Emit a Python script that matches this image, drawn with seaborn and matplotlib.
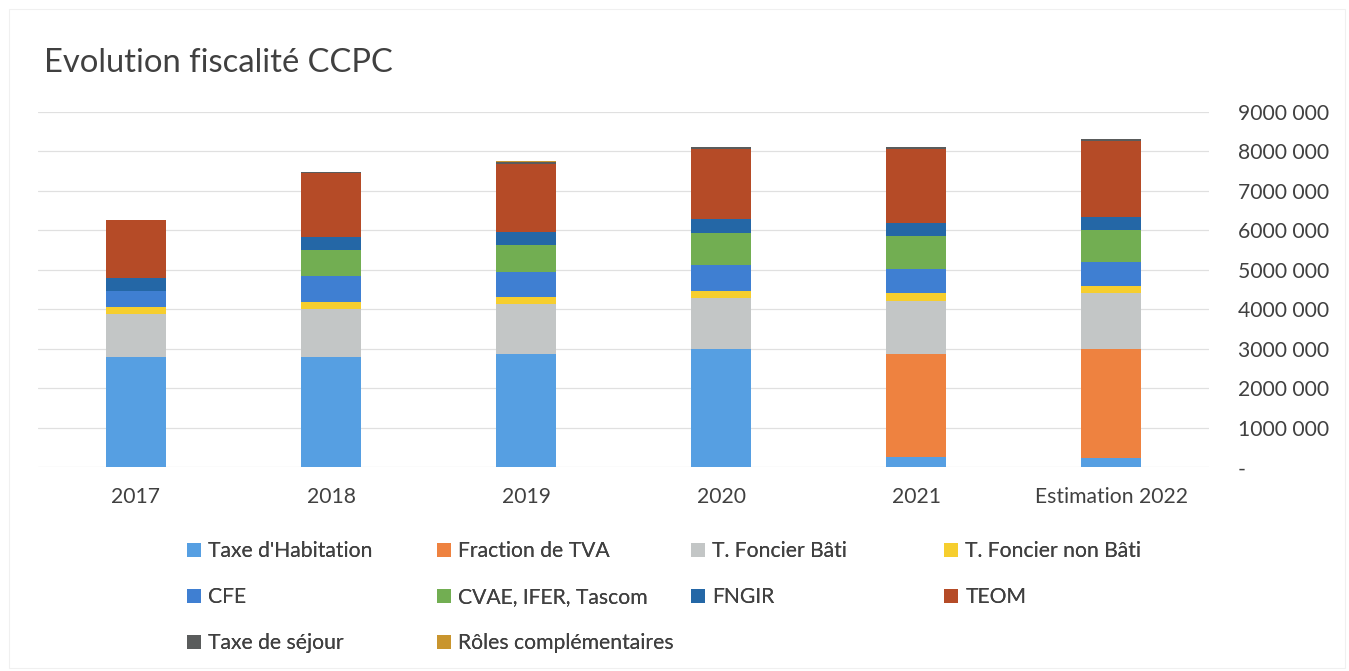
import matplotlib
matplotlib.use("Agg")
import matplotlib.pyplot as plt
import seaborn as sns
import numpy as np
from matplotlib.patches import Patch, Rectangle
from matplotlib.ticker import FuncFormatter, MultipleLocator

years = ["2017", "2018", "2019", "2020", "2021", "Estimation 2022"]
taxe_habitation = [2800000, 2790000, 2870000, 2990000, 260000, 250000]
fraction_tva = [0, 0, 0, 0, 2610000, 2740000]
foncier_bati = [1080000, 1220000, 1260000, 1310000, 1350000, 1430000]
foncier_non_bati = [170000, 180000, 190000, 170000, 190000, 170000]
cfe = [420000, 650000, 630000, 650000, 600000, 620000]
cvae_ifer_tascom = [0, 660000, 670000, 820000, 840000, 800000]
fngir = [330000, 340000, 330000, 340000, 340000, 320000]
teom = [1460000, 1610000, 1740000, 1780000, 1870000, 1940000]
taxe_sejour = [0, 20000, 40000, 40000, 40000, 30000]
roles_complementaires = [0, 10000, 30000, 10000, 20000, 10000]

series_names = ["Taxe d'Habitation", "Fraction de TVA", "T. Foncier Bâti",
                "T. Foncier non Bâti", "CFE", "CVAE, IFER, Tascom", "FNGIR",
                "TEOM", "Taxe de séjour", "Rôles complémentaires"]
series_values = [taxe_habitation, fraction_tva, foncier_bati, foncier_non_bati,
                 cfe, cvae_ifer_tascom, fngir, teom, taxe_sejour,
                 roles_complementaires]
colors = ["#569FE2", "#EE8240", "#C3C6C6", "#F6CE2E", "#3F7FD2", "#72AE52",
          "#2467A6", "#B54B27", "#5A5C5C", "#C9952E"]

sns.set_theme(style="white")
FONT = ["Lato", "DejaVu Sans"]
plt.rcParams["font.family"] = FONT
TXT = "#404040"
FS = 15.2

fig = plt.figure(figsize=(13.49, 6.71), dpi=100)
ax = fig.add_axes([0.0285, 0.3033, 0.8675, 0.5302])

cum = np.zeros(len(years))
for name, vals, col in zip(series_names, series_values, colors):
    sns.barplot(x=years, y=vals, bottom=cum, color=col, width=0.31,
                errorbar=None, saturation=1, ax=ax, linewidth=0)
    cum = cum + np.array(vals)

ax.set_ylim(0, 9000000)
ax.set_xlim(-0.5, len(years) - 0.5)
ax.yaxis.set_major_locator(MultipleLocator(1000000))
ax.yaxis.tick_right()


def fmt(v, pos):
    if abs(v) < 1:
        return "-"
    v = int(round(v))
    return f"{v // 1000}" + " " + f"{v % 1000:03d}"


ax.yaxis.set_major_formatter(FuncFormatter(fmt))
ax.grid(axis="y", color="#E0E0E0", linewidth=0.9)
ax.set_axisbelow(True)
for s in ax.spines.values():
    s.set_visible(False)
ax.tick_params(axis="y", length=0, pad=21, labelsize=FS, labelcolor=TXT)
ax.tick_params(axis="x", length=0, pad=14, labelsize=FS, labelcolor=TXT)
ax.set_xlabel("")
ax.set_ylabel("")

fig.text(0.0325, 0.906, "Evolution fiscalité CCPC", fontsize=23.6, color=TXT,
         ha="left", va="center")

# faint frame of the chart area
fig.add_artist(Rectangle((0.007, 0.004), 0.99, 0.983, transform=fig.transFigure,
                         fill=False, edgecolor="#F0F0F0", linewidth=0.8))

# legend in 4 equal-width columns, row-major like the original
col_x = [0.1386, 0.3239, 0.5122, 0.6998]
for c in range(4):
    idx = list(range(c, len(series_names), 4))
    handles = [Patch(facecolor=colors[i], edgecolor="none") for i in idx]
    labels = [series_names[i] for i in idx]
    leg = fig.legend(handles, labels, loc="upper left",
                     bbox_to_anchor=(col_x[c], 0.193), frameon=False,
                     fontsize=FS, handlelength=0.65, handleheight=0.65,
                     handletextpad=0.35, labelspacing=1.22,
                     borderaxespad=0, borderpad=0, labelcolor=TXT)
    fig.add_artist(leg)

fig.savefig("out.png", dpi=100, facecolor="white")
